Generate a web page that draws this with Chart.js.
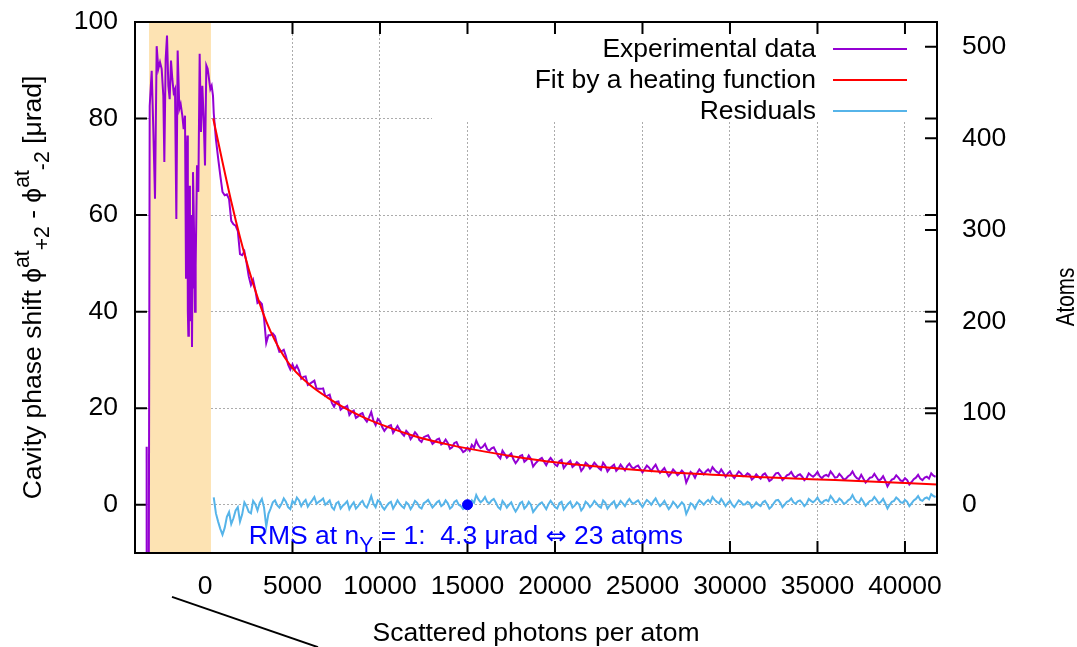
<!DOCTYPE html>
<html>
<head>
<meta charset="utf-8">
<script src="https://cdn.jsdelivr.net/npm/chart.js@4.4.0/dist/chart.umd.min.js"></script>
<style>
  html, body { margin: 0; padding: 0; background: #fff; }
  canvas { display: block; }
</style>
</head>
<body>
<canvas id="phaseChart" width="1077" height="647"></canvas>
<script>
const ctx = document.getElementById('phaseChart').getContext('2d');
const FONT = 'Liberation Sans';
const SIZE = 26.5;

// axis ticks
const xTickValues = [0, 5000, 10000, 15000, 20000, 25000, 30000, 35000, 40000];
const phaseTickValues = [0, 20, 40, 60, 80, 100];
const atomTickValues = [0, 100, 200, 300, 400, 500];

// loading phase (shaded band)
const shadeFrom = -3200;
const shadeTo = 340;

// experimental data while loading
const warmupX = [-3335, -3330, -3225, -3160, -3046, -2954, -2857, -2762, -2667, -2571, -2476, -2381, -2324,
  -2248, -2171, -2095, -2019, -1943, -1867, -1790, -1714, -1638, -1562, -1467, -1390, -1295, -1219, -1143,
  -1086, -1050, -1010, -980, -952, -920, -895, -860, -819, -780, -743, -720, -686, -650, -610, -570, -533,
  -457, -381, -305, -229, -152, -76, 0, 76, 152, 229, 305, 381, 457];
const warmupY = [12, -40, -40, 82.6, 89.9, 77.8, 63.4, 95, 90.3, 91.7, 90.3, 84.7, 71,
  92.3, 97.2, 86.8, 84, 92, 88.2, 85.4, 86.1, 59.2, 94.1, 82, 83, 80.6, 77.8, 80.6,
  46.8, 70, 76.5, 40, 35, 62, 66.1, 38, 52.4, 60, 32.7, 45, 68.9, 62, 53, 40, 49.5,
  70.3, 64.8, 93.4, 77.2, 86.8, 79.9, 70.3, 91, 90.3, 88.2, 86.1, 86.8, 84.7];

// experimental data during heating, one sample every 125 photons from 500
const decayStart = 500;
const decayStep = 125;
const decayY = [
  81.1, 75.7, 71.8, 68.2, 64.8, 64.1, 64.3, 63.3, 58.8, 58.1, 57.8, 56.7, 51.9, 51.7, 52.5, 50.1, 47.3, 45.5, 46.6, 44.5,
  41.8, 42.1, 41.6, 38.6, 33.5, 35.1, 35.1, 35.5, 34.9, 33.1, 31.7, 31.8, 32.1, 30.8, 29.0, 28.0, 29.1, 28.0, 28.8, 27.8,
  26.1, 26.5, 26.6, 24.8, 25.1, 25.4, 25.7, 24.0, 24.0, 24.0, 24.1, 22.5, 22.6, 22.8, 21.1, 20.3, 21.3, 21.4, 19.7, 20.1,
  20.2, 20.5, 18.6, 19.2, 19.5, 18.0, 18.3, 18.8, 19.0, 17.8, 17.2, 18.1, 19.2, 17.4, 16.5, 17.8, 17.3, 16.1, 15.3, 15.9,
  16.3, 16.5, 14.9, 15.6, 16.3, 15.5, 14.8, 14.3, 15.3, 14.8, 13.6, 14.2, 15.0, 14.5, 13.4, 13.0, 14.0, 14.2, 14.4, 13.5,
  12.6, 13.0, 13.5, 13.7, 12.5, 12.8, 13.5, 12.8, 11.6, 11.9, 12.8, 13.0, 12.0, 11.6, 10.9, 11.2, 11.8, 11.2, 12.4, 11.8,
  13.3, 12.3, 11.7, 12.0, 12.6, 11.5, 11.2, 11.7, 11.9, 11.0, 10.1, 9.6, 11.2, 10.5, 9.7, 10.2, 10.6, 9.4, 8.6, 9.2,
  10.1, 10.3, 8.9, 9.3, 10.2, 9.5, 7.9, 8.5, 9.0, 9.4, 9.7, 8.9, 8.2, 9.1, 9.7, 9.1, 8.3, 8.0, 9.0, 9.3,
  7.6, 8.2, 8.7, 9.1, 7.8, 8.2, 8.8, 8.4, 7.0, 7.6, 8.7, 8.3, 7.5, 8.0, 8.7, 8.2, 7.6, 7.2, 8.7, 8.1,
  6.9, 7.5, 7.9, 8.3, 7.0, 7.5, 8.3, 7.7, 7.1, 8.0, 8.5, 7.8, 7.5, 7.9, 8.1, 7.4, 6.7, 7.4, 8.1, 7.7,
  7.0, 7.7, 8.3, 7.3, 6.6, 7.1, 7.6, 6.7, 5.9, 6.5, 7.3, 6.8, 6.1, 6.5, 7.1, 6.6, 4.6, 5.6, 6.8, 6.4,
  5.6, 6.6, 7.3, 6.8, 6.3, 6.9, 7.3, 6.8, 7.8, 7.2, 6.8, 6.5, 7.3, 6.6, 5.8, 6.5, 6.9, 6.0, 5.5, 6.2,
  6.9, 6.5, 5.9, 6.0, 6.5, 6.2, 5.2, 5.6, 6.3, 5.8, 5.4, 6.2, 6.5, 5.8, 4.9, 5.2, 5.9, 6.5, 6.6, 6.0,
  5.1, 5.5, 6.1, 6.3, 6.8, 6.0, 5.6, 6.1, 6.3, 5.8, 5.1, 5.5, 6.5, 6.1, 5.8, 6.2, 6.8, 5.9, 5.5, 6.0,
  6.2, 5.9, 6.9, 6.3, 5.6, 5.7, 6.4, 5.9, 5.2, 5.4, 5.9, 6.2, 6.9, 6.0, 5.5, 5.3, 6.2, 5.4, 4.6, 5.1,
  5.6, 5.7, 6.4, 5.7, 5.0, 5.3, 5.9, 5.0, 3.8, 4.6, 5.2, 5.4, 6.1, 5.6, 5.0, 4.9, 5.5, 5.1, 4.2, 4.7,
  5.3, 5.6, 6.2, 5.4, 5.1, 5.6, 5.8, 5.4, 6.5, 6.0, 5.8
];
const residualY = [
  1.5, -1.8, -3.5, -5.0, -6.2, -4.8, -2.5, -1.5, -4.0, -2.8, -1.2, -0.5, -3.5, -2.0, 0.5, -0.3, -1.5, -1.8, 0.8, 0.1,
  -1.2, 0.4, 1.2, -0.6, -4.5, -1.9, -0.8, 0.5, 0.9, -0.1, -0.6, 0.2, 1.3, 0.6, -0.5, -0.9, 0.8, 0.2, 1.5, 0.9,
  -0.3, 0.5, 1.0, -0.4, 0.3, 0.9, 1.6, 0.2, 0.6, 0.9, 1.3, 0.0, 0.4, 0.9, -0.5, -1.0, 0.3, 0.6, -0.8, -0.2,
  0.2, 0.7, -0.9, -0.1, 0.5, -0.8, -0.3, 0.4, 0.8, -0.2, -0.6, 0.5, 1.8, 0.2, -0.5, 0.9, 0.6, -0.4, -1.0, -0.3,
  0.3, 0.6, -0.8, 0.0, 0.9, 0.2, -0.3, -0.7, 0.5, 0.1, -0.9, -0.2, 0.8, 0.4, -0.5, -0.8, 0.3, 0.6, 1.0, 0.2,
  -0.6, -0.1, 0.5, 0.8, -0.3, 0.1, 0.9, 0.3, -0.8, -0.4, 0.6, 0.9, 0.0, -0.3, -0.9, -0.5, 0.2, -0.3, 0.9, 0.4,
  2.0, 1.1, 0.5, 0.9, 1.6, 0.6, 0.3, 0.9, 1.2, 0.4, -0.5, -0.9, 0.8, 0.2, -0.6, 0.0, 0.5, -0.6, -1.4, -0.7,
  0.3, 0.6, -0.8, -0.3, 0.6, 0.0, -1.5, -0.9, -0.3, 0.2, 0.5, -0.2, -0.9, 0.1, 0.8, 0.2, -0.5, -0.8, 0.3, 0.6,
  -1.0, -0.4, 0.2, 0.6, -0.6, -0.2, 0.5, 0.1, -1.2, -0.6, 0.6, 0.2, -0.5, 0.0, 0.8, 0.3, -0.3, -0.6, 0.9, 0.4,
  -0.8, -0.2, 0.3, 0.7, -0.6, 0.0, 0.8, 0.3, -0.3, 0.6, 1.2, 0.5, 0.2, 0.6, 0.9, 0.2, -0.5, 0.3, 1.0, 0.6,
  0.0, 0.7, 1.3, 0.4, -0.3, 0.2, 0.8, -0.1, -0.9, -0.3, 0.6, 0.1, -0.6, -0.1, 0.5, 0.0, -1.9, -0.9, 0.3, 0.0,
  -0.8, 0.2, 0.9, 0.5, 0.0, 0.6, 1.0, 0.5, 1.6, 1.0, 0.6, 0.3, 1.2, 0.5, -0.3, 0.4, 0.8, 0.0, -0.5, 0.2,
  0.9, 0.6, 0.0, 0.1, 0.6, 0.3, -0.6, -0.2, 0.5, 0.0, -0.3, 0.5, 0.8, 0.1, -0.8, -0.4, 0.3, 0.9, 1.0, 0.4,
  -0.5, 0.0, 0.6, 0.8, 1.3, 0.5, 0.2, 0.7, 0.9, 0.4, -0.3, 0.2, 1.2, 0.8, 0.5, 0.9, 1.5, 0.7, 0.3, 0.8,
  1.0, 0.7, 1.8, 1.2, 0.5, 0.6, 1.3, 0.9, 0.2, 0.4, 0.9, 1.2, 2.0, 1.1, 0.6, 0.4, 1.3, 0.6, -0.2, 0.3,
  0.8, 0.9, 1.6, 1.0, 0.3, 0.6, 1.2, 0.3, -0.8, 0.0, 0.6, 0.8, 1.5, 1.1, 0.5, 0.4, 1.0, 0.6, -0.3, 0.3,
  0.9, 1.2, 1.8, 1.0, 0.8, 1.3, 1.5, 1.1, 2.2, 1.8, 1.6
];

// heating fit
const fitX = [470, 1000, 1500, 2000, 2500, 3000, 3500, 4000, 4500, 5000, 6000, 7000, 8000, 9000, 10000,
  12000, 14000, 16000, 18000, 20000, 24000, 28000, 32000, 36000, 40000, 41830];
const fitY = [80.0, 71.0, 62.8, 55.4, 48.8, 43.0, 38.0, 34.0, 30.8, 28.3, 24.8, 22.2, 20.0, 18.2, 16.7,
  14.2, 12.4, 11.0, 9.8, 8.8, 7.4, 6.4, 5.7, 5.1, 4.5, 4.2];

// highlighted point and annotation anchors (data units)
const markX = [15000];
const markY = [0];
const rmsAnchor = [2500, -8.1];
const pointerFrom = [-1886, -19.1];
const pointerTo = [6457, -29.5];

const expPoints = warmupX.map((x, i) => ({ x, y: warmupY[i] }))
  .concat(decayY.map((y, i) => ({ x: decayStart + i * decayStep, y })));
const residualPoints = residualY.map((y, i) => ({ x: decayStart + i * decayStep, y }));
const fitPoints = fitX.map((x, i) => ({ x, y: fitY[i] }));
const markPoints = markX.map((x, i) => ({ x, y: markY[i] }));

function font(scale, family) {
  return (SIZE * (scale || 1)) + 'px "' + (family || FONT) + '"';
}

// draws text made of pieces with sub/superscripts, baseline at y
function drawRich(c, parts, x, y, align) {
  let total = 0;
  const widths = parts.map(p => {
    c.font = font(p.s, p.f);
    const w = c.measureText(p.t).width;
    total += w;
    return w;
  });
  let cx = align === 'center' ? x - total / 2 : x;
  c.textAlign = 'left';
  c.textBaseline = 'alphabetic';
  parts.forEach((p, i) => {
    c.font = font(p.s, p.f);
    c.fillText(p.t, cx, y + (p.dy || 0) * SIZE);
    cx += widths[i];
  });
}

const framePlugin = {
  id: 'frame',
  beforeDatasetsDraw(chart) {
    const { ctx: c, chartArea: a, scales } = chart;
    const x = scales.x, y = scales.y, y2 = scales.y2;
    c.save();
    // legend backing
    c.fillStyle = '#ffffff';
    c.fillRect(a.right - 505, a.top, 505, 100);
    // loading band
    const s0 = x.getPixelForValue(shadeFrom), s1 = x.getPixelForValue(shadeTo);
    c.fillStyle = '#fde3b3';
    c.fillRect(s0, a.top, s1 - s0, a.bottom - a.top);
    // inward ticks
    c.strokeStyle = '#000';
    c.lineWidth = 2;
    c.beginPath();
    xTickValues.forEach(v => {
      const px = x.getPixelForValue(v);
      if (px > s0 && px < s1) return;
      c.moveTo(px, a.bottom); c.lineTo(px, a.bottom - 12);
      c.moveTo(px, a.top); c.lineTo(px, a.top + 12);
    });
    phaseTickValues.forEach(v => {
      const py = y.getPixelForValue(v);
      c.moveTo(a.left, py); c.lineTo(a.left + 12, py);
      c.moveTo(a.right, py); c.lineTo(a.right - 12, py);
    });
    atomTickValues.forEach(v => {
      const py = y2.getPixelForValue(v);
      c.moveTo(a.right, py); c.lineTo(a.right - 12, py);
    });
    c.stroke();
    c.restore();
  },
  afterDatasetsDraw(chart) {
    const { ctx: c, chartArea: a, scales } = chart;
    c.save();
    // border
    c.strokeStyle = '#000';
    c.lineWidth = 2;
    c.strokeRect(a.left, a.top, a.right - a.left, a.bottom - a.top);
    // legend
    c.font = font();
    c.textAlign = 'right';
    c.textBaseline = 'middle';
    [0, 1, 2].forEach((di, i) => {
      const ds = chart.data.datasets[di];
      const ry = a.top + 27 + i * 31;
      c.fillStyle = '#000';
      c.fillText(ds.label, a.right - 121, ry + 1);
      c.strokeStyle = ds.borderColor;
      c.lineWidth = 2;
      c.beginPath();
      c.moveTo(a.right - 104, ry);
      c.lineTo(a.right - 30, ry);
      c.stroke();
    });
    // RMS note
    c.fillStyle = '#0000ff';
    drawRich(c, [
      { t: 'RMS at n' },
      { t: 'Y', s: 0.8, dy: 0.3 },
      { t: ' = 1:  4.3 μrad ' },
      { t: '⇔', f: 'DejaVu Sans', s: 0.95 },
      { t: ' 23 atoms' }
    ], scales.x.getPixelForValue(rmsAnchor[0]), scales.y.getPixelForValue(rmsAnchor[1]), 'left');
    c.restore();
  },
  afterDraw(chart) {
    const { ctx: c, chartArea: a, scales } = chart;
    c.save();
    c.fillStyle = '#000';
    // left title
    c.save();
    c.translate(a.left - 94, (a.top + a.bottom) / 2);
    c.rotate(-Math.PI / 2);
    drawRich(c, [
      { t: 'Cavity phase shift ϕ' },
      { t: 'at', s: 0.8, dy: -0.45 },
      { t: '+2', s: 0.8, dy: 0.3 },
      { t: ' - ϕ' },
      { t: 'at', s: 0.8, dy: -0.45 },
      { t: '-2', s: 0.8, dy: 0.3 },
      { t: ' [μrad]' }
    ], 0, 0, 'center');
    c.restore();
    // right title, narrow lettering
    c.save();
    c.translate(a.right + 137, 297);
    c.rotate(-Math.PI / 2);
    c.scale(0.78, 1);
    c.font = font();
    c.textAlign = 'center';
    c.textBaseline = 'alphabetic';
    c.fillText('Atoms', 0, 0);
    c.restore();
    // bottom title
    c.font = font();
    c.textAlign = 'center';
    c.textBaseline = 'alphabetic';
    c.fillText('Scattered photons per atom', (a.left + a.right) / 2, a.bottom + 88);
    // pointer line
    c.strokeStyle = '#000';
    c.lineWidth = 2;
    c.beginPath();
    c.moveTo(scales.x.getPixelForValue(pointerFrom[0]), scales.y.getPixelForValue(pointerFrom[1]));
    c.lineTo(scales.x.getPixelForValue(pointerTo[0]), scales.y.getPixelForValue(pointerTo[1]));
    c.stroke();
    c.restore();
  }
};

const tickFont = { family: FONT, size: SIZE };
// ticks are drawn by the frame plugin; the invisible tick length only places the labels
function gridStyle(len, show) {
  return { display: true, drawOnChartArea: show, color: '#acacac', lineWidth: 1,
    drawTicks: true, tickLength: len, tickWidth: 0, tickColor: 'rgba(0,0,0,0)' };
}

new Chart(ctx, {
  type: 'line',
  data: {
    datasets: [
      {
        label: 'Experimental data',
        data: expPoints,
        borderColor: '#9400d3',
        borderWidth: 2,
        pointRadius: 0,
        order: 3
      },
      {
        label: 'Fit by a heating function',
        data: fitPoints,
        borderColor: '#ff0000',
        borderWidth: 2,
        pointRadius: 0,
        cubicInterpolationMode: 'monotone',
        order: 1
      },
      {
        label: 'Residuals',
        data: residualPoints,
        borderColor: '#56b4e9',
        borderWidth: 2,
        pointRadius: 0,
        order: 2
      },
      {
        label: 'mark',
        data: markPoints,
        showLine: false,
        pointRadius: 5,
        pointBackgroundColor: '#0000ff',
        pointBorderColor: '#0000ff',
        order: 0
      }
    ]
  },
  options: {
    responsive: false,
    animation: false,
    events: [],
    layout: { padding: { top: 22, left: 0, right: 0, bottom: 0 } },
    plugins: { legend: { display: false }, tooltip: { enabled: false } },
    scales: {
      x: {
        type: 'linear',
        min: -4000,
        max: 41830,
        afterBuildTicks: s => { s.ticks = xTickValues.map(v => ({ value: v })); },
        afterFit: s => { s.height = 94; },
        grid: gridStyle(18, true),
        border: { display: false, dash: [2, 2] },
        ticks: { font: tickFont, color: '#000', padding: 0, maxRotation: 0, autoSkip: false, callback: v => String(v) }
      },
      y: {
        position: 'left',
        min: -10,
        max: 100,
        afterBuildTicks: s => { s.ticks = phaseTickValues.map(v => ({ value: v })); },
        afterFit: s => { s.width = 135; },
        grid: gridStyle(17, true),
        border: { display: false, dash: [2, 2] },
        ticks: { font: tickFont, color: '#000', padding: 0, callback: v => String(v) }
      },
      y2: {
        position: 'right',
        min: -52.7,
        max: 527,
        afterBuildTicks: s => { s.ticks = atomTickValues.map(v => ({ value: v })); },
        afterFit: s => { s.width = 140; },
        grid: gridStyle(25, false),
        border: { display: false },
        ticks: { font: tickFont, color: '#000', padding: 0, callback: v => String(v) }
      }
    }
  },
  plugins: [framePlugin]
});
</script>
</body>
</html>
